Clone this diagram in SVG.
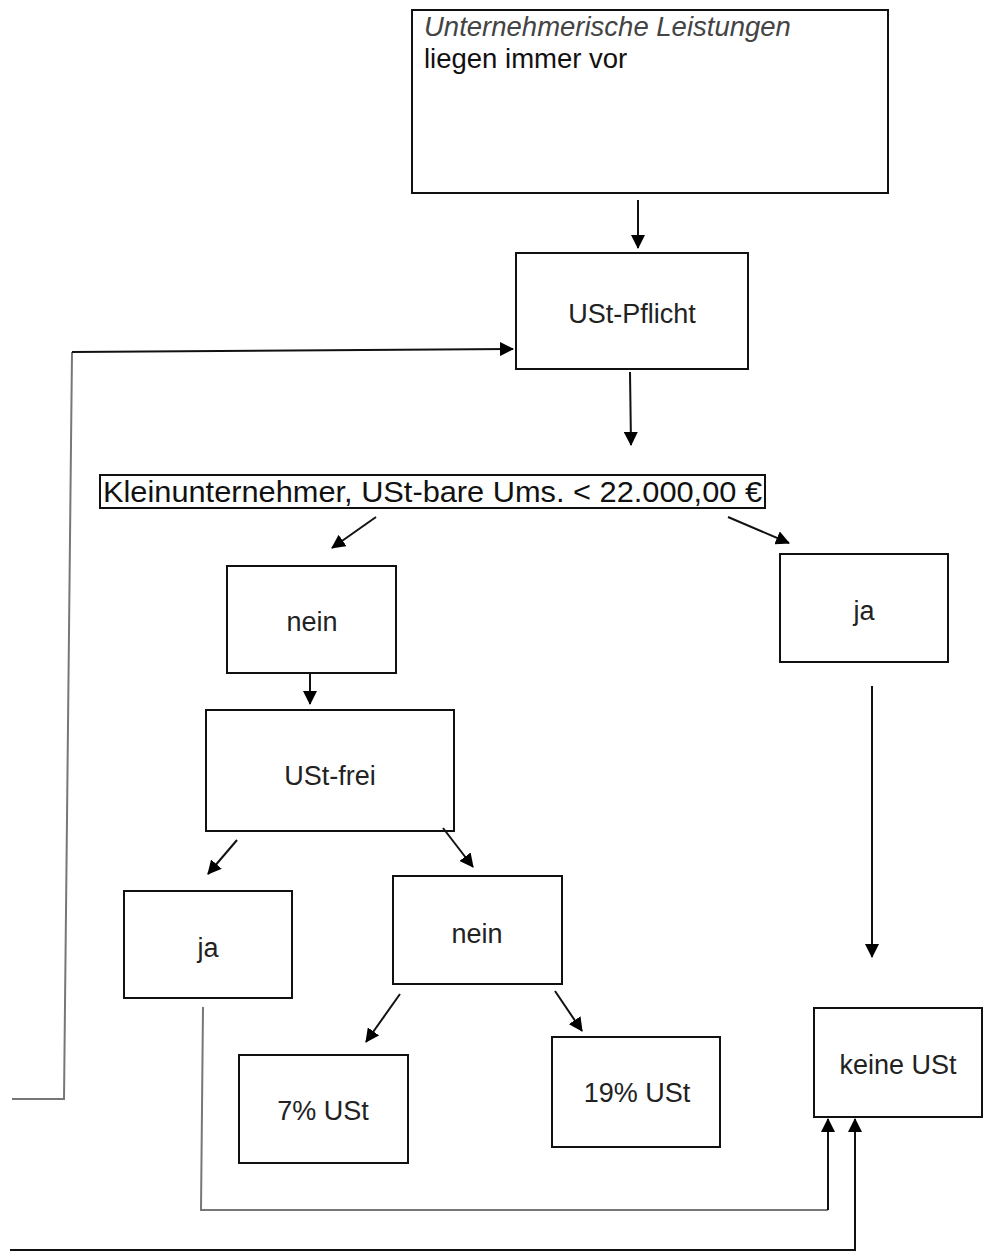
<svg xmlns="http://www.w3.org/2000/svg" width="986" height="1255" viewBox="0 0 986 1255">
<style>
.box{fill:#fff;stroke:#111;stroke-width:2}
.t{font-family:"Liberation Sans",Arial,sans-serif;font-size:27px;fill:#222;text-anchor:middle}
.c{fill:none;stroke:#111;stroke-width:2}
.g{fill:none;stroke:#777;stroke-width:2}
</style>
<defs>
<marker id="ah2" markerWidth="14" markerHeight="14" refX="13" refY="7" orient="auto" markerUnits="userSpaceOnUse" viewBox="0 0 14 14">
<path d="M0,0 L14,7 L0,14 Z" fill="#000"/>
</marker>
</defs>
<g id="n-top">
<rect class="box" x="412" y="10" width="476" height="183"/>
<text x="424" y="36" font-family="Liberation Sans,Arial,sans-serif" font-size="27.5" font-style="italic" fill="#444">Unternehmerische Leistungen</text>
<text x="424" y="68" font-family="Liberation Sans,Arial,sans-serif" font-size="27.5" fill="#111">liegen immer vor</text>
</g>
<g id="n-pflicht">
<rect class="box" x="516" y="253" width="232" height="116"/>
<text class="t" x="632" y="323">USt-Pflicht</text>
</g>
<g id="n-klein">
<rect class="box" x="100" y="475" width="665" height="33"/>
<text x="103" y="502" font-family="Liberation Sans,Arial,sans-serif" font-size="30" fill="#111" textLength="659" lengthAdjust="spacingAndGlyphs">Kleinunternehmer, USt-bare Ums. &lt; 22.000,00 €</text>
</g>
<g id="n-nein1">
<rect class="box" x="227" y="566" width="169" height="107"/>
<text class="t" x="312" y="631">nein</text>
</g>
<g id="n-ja1">
<rect class="box" x="780" y="554" width="168" height="108"/>
<text class="t" x="864" y="620">ja</text>
</g>
<g id="n-frei">
<rect class="box" x="206" y="710" width="248" height="121"/>
<text class="t" x="330" y="785">USt-frei</text>
</g>
<g id="n-ja2">
<rect class="box" x="124" y="891" width="168" height="107"/>
<text class="t" x="208" y="957">ja</text>
</g>
<g id="n-nein2">
<rect class="box" x="393" y="876" width="169" height="108"/>
<text class="t" x="477" y="943">nein</text>
</g>
<g id="n-7">
<rect class="box" x="239" y="1055" width="169" height="108"/>
<text class="t" x="323" y="1120">7% USt</text>
</g>
<g id="n-19">
<rect class="box" x="552" y="1037" width="168" height="110"/>
<text class="t" x="637" y="1102">19% USt</text>
</g>
<g id="n-keine">
<rect class="box" x="814" y="1008" width="168" height="109"/>
<text class="t" x="898" y="1074">keine USt</text>
</g>
<g id="connectors">
<line class="c" x1="638" y1="200" x2="638" y2="248" marker-end="url(#ah2)"/>
<line class="c" x1="630" y1="372" x2="631" y2="445" marker-end="url(#ah2)"/>
<line class="c" x1="376" y1="517" x2="332" y2="548" marker-end="url(#ah2)"/>
<line class="c" x1="728" y1="517" x2="789" y2="543" marker-end="url(#ah2)"/>
<line class="c" x1="310" y1="674" x2="310" y2="704" marker-end="url(#ah2)"/>
<line class="c" x1="237" y1="840" x2="208" y2="874" marker-end="url(#ah2)"/>
<line class="c" x1="443" y1="828" x2="473" y2="867" marker-end="url(#ah2)"/>
<line class="c" x1="400" y1="994" x2="366" y2="1042" marker-end="url(#ah2)"/>
<line class="c" x1="555" y1="991" x2="582" y2="1031" marker-end="url(#ah2)"/>
<line class="c" x1="872" y1="686" x2="872" y2="957" marker-end="url(#ah2)"/>
<polyline class="g" points="203,1007 201,1210 828,1210"/>
<line class="c" x1="828" y1="1210" x2="828" y2="1119" marker-end="url(#ah2)"/>
<polyline class="c" points="10,1250 855,1250 855,1119" marker-end="url(#ah2)"/>
<polyline class="g" points="12,1099 64,1099 72,352"/>
<line class="c" x1="72" y1="352" x2="513" y2="349" marker-end="url(#ah2)"/>
</g>
</svg>
